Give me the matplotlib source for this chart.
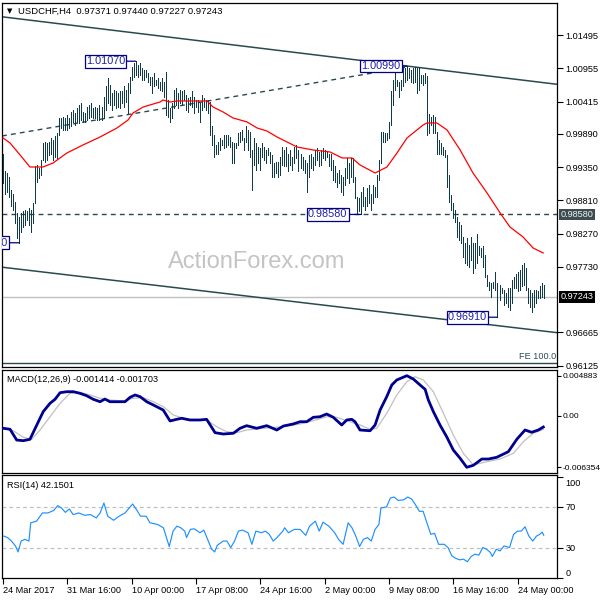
import matplotlib
matplotlib.use("Agg")
import matplotlib.pyplot as plt
from matplotlib.transforms import ScaledTranslation, blended_transform_factory

plt.rcParams['font.family'] = ['Liberation Sans', 'DejaVu Sans']

# ---------------- data ----------------
highs = [
    0.9957, 0.9928, 0.9925, 0.9919, 0.9898, 0.9892, 0.9879, 0.9860, 0.9854, 0.9860,
    0.9863, 0.9865, 0.9863, 0.9868, 0.9865, 0.9876, 0.9936, 0.9938, 0.9933, 0.9946,
    0.9974, 0.9976, 0.9974, 0.9976, 0.9982, 0.9979, 0.9985, 0.9990, 1.0014, 1.0014,
    1.0017, 1.0014, 1.0020, 1.0014, 1.0025, 1.0028, 1.0023, 1.0031, 1.0036, 1.0039,
    1.0025, 1.0023, 1.0033, 1.0036, 1.0039, 1.0031, 1.0033, 1.0031, 1.0036, 1.0033,
    1.0049, 1.0066, 1.0079, 1.0068, 1.0055, 1.0060, 1.0058, 1.0055, 1.0058, 1.0058,
    1.0066, 1.0060, 1.0071, 1.0082, 1.0098, 1.0104, 1.0107, 1.0101, 1.0104, 1.0096,
    1.0093, 1.0093, 1.0088, 1.0082, 1.0082, 1.0088, 1.0077, 1.0079, 1.0074, 1.0079,
    1.0074, 1.0090, 1.0044, 1.0031, 1.0039, 1.0060, 1.0063, 1.0055, 1.0060, 1.0058,
    1.0060, 1.0052, 1.0047, 1.0049, 1.0058, 1.0049, 1.0044, 1.0044, 1.0039, 1.0052,
    1.0047, 1.0044, 1.0044, 1.0041, 1.0001, 0.9987, 0.9971, 0.9976, 0.9982, 0.9979,
    0.9987, 0.9987, 0.9987, 0.9984, 0.9976, 0.9974, 0.9974, 0.9990, 0.9992, 0.9995,
    0.9982, 1.0001, 0.9995, 0.9992, 0.9963, 0.9982, 0.9974, 0.9968, 0.9966, 0.9974,
    0.9968, 0.9963, 0.9966, 0.9960, 0.9955, 0.9941, 0.9944, 0.9944, 0.9952, 0.9968,
    0.9963, 0.9968, 0.9957, 0.9963, 0.9952, 0.9968, 0.9971, 0.9963, 0.9957, 0.9952,
    0.9946, 0.9941, 0.9955, 0.9957, 0.9952, 0.9963, 0.9966, 0.9960, 0.9963, 0.9966,
    0.9963, 0.9960, 0.9957, 0.9957, 0.9946, 0.9936, 0.9925, 0.9930, 0.9922, 0.9919,
    0.9933, 0.9949, 0.9941, 0.9949, 0.9949, 0.9919, 0.9887, 0.9884, 0.9895, 0.9903,
    0.9887, 0.9901, 0.9906, 0.9892, 0.9906, 0.9903, 0.9922, 0.9946, 0.9992, 0.9992,
    0.9990, 0.9990, 1.0009, 1.0058, 1.0077, 1.0096, 1.0077, 1.0074, 1.0077, 1.0098,
    1.0096, 1.0099, 1.0096, 1.0093, 1.0096, 1.0098, 1.0096, 1.0098, 1.0085, 1.0085,
    1.0088, 1.0083, 1.0022, 1.0017, 1.0020, 1.0017, 0.9992, 0.9979, 0.9974, 0.9968,
    0.9963, 0.9955, 0.9922, 0.9890, 0.9876, 0.9865, 0.9854, 0.9846, 0.9841, 0.9822,
    0.9811, 0.9819, 0.9808, 0.9822, 0.9811, 0.9811, 0.9827, 0.9806, 0.9803, 0.9806,
    0.9792, 0.9760, 0.9749, 0.9746, 0.9749, 0.9765, 0.9746, 0.9743, 0.9738, 0.9735,
    0.9730, 0.9738, 0.9738, 0.9751, 0.9757, 0.9762, 0.9765, 0.9768, 0.9776, 0.9779,
    0.9771, 0.9738, 0.9735, 0.9730, 0.9735, 0.9735, 0.9733, 0.9741, 0.9746, 0.9744,
]
lows = [
    0.9909, 0.9892, 0.9895, 0.9887, 0.9871, 0.9865, 0.9844, 0.9819, 0.9812, 0.9830,
    0.9838, 0.9841, 0.9849, 0.9841, 0.9830, 0.9844, 0.9876, 0.9911, 0.9917, 0.9922,
    0.9946, 0.9944, 0.9946, 0.9955, 0.9957, 0.9946, 0.9952, 0.9949, 0.9987, 0.9998,
    0.9995, 0.9995, 0.9995, 0.9998, 1.0001, 1.0009, 1.0003, 1.0009, 1.0006, 1.0012,
    1.0009, 1.0009, 1.0012, 1.0014, 1.0017, 1.0014, 1.0014, 1.0012, 1.0012, 1.0012,
    1.0014, 1.0028, 1.0039, 1.0036, 1.0028, 1.0036, 1.0031, 1.0033, 1.0031, 1.0039,
    1.0033, 1.0041, 1.0023, 1.0055, 1.0077, 1.0082, 1.0085, 1.0082, 1.0085, 1.0077,
    1.0077, 1.0082, 1.0074, 1.0068, 1.0055, 1.0066, 1.0068, 1.0063, 1.0060, 1.0058,
    1.0049, 1.0020, 1.0017, 1.0009, 1.0014, 1.0031, 1.0036, 1.0031, 1.0039, 1.0036,
    1.0044, 1.0028, 1.0025, 1.0036, 1.0033, 1.0023, 1.0033, 1.0025, 1.0009, 1.0028,
    1.0033, 1.0028, 1.0023, 0.9987, 0.9971, 0.9952, 0.9957, 0.9957, 0.9963, 0.9971,
    0.9966, 0.9968, 0.9971, 0.9968, 0.9941, 0.9941, 0.9966, 0.9971, 0.9976, 0.9979,
    0.9963, 0.9976, 0.9963, 0.9952, 0.9898, 0.9938, 0.9930, 0.9941, 0.9930, 0.9952,
    0.9946, 0.9941, 0.9955, 0.9941, 0.9919, 0.9919, 0.9925, 0.9919, 0.9922, 0.9938,
    0.9936, 0.9936, 0.9928, 0.9938, 0.9930, 0.9941, 0.9949, 0.9928, 0.9933, 0.9930,
    0.9925, 0.9895, 0.9919, 0.9933, 0.9930, 0.9938, 0.9946, 0.9936, 0.9938, 0.9949,
    0.9946, 0.9952, 0.9936, 0.9930, 0.9914, 0.9911, 0.9903, 0.9909, 0.9895, 0.9890,
    0.9906, 0.9917, 0.9909, 0.9919, 0.9911, 0.9884, 0.9860, 0.9863, 0.9858, 0.9871,
    0.9865, 0.9871, 0.9876, 0.9865, 0.9876, 0.9887, 0.9887, 0.9914, 0.9941, 0.9976,
    0.9976, 0.9979, 0.9982, 1.0003, 1.0036, 1.0060, 1.0066, 1.0049, 1.0060, 1.0066,
    1.0074, 1.0077, 1.0079, 1.0074, 1.0071, 1.0074, 1.0055, 1.0060, 1.0071, 1.0068,
    1.0071, 0.9987, 0.9990, 1.0003, 0.9990, 0.9990, 0.9957, 0.9957, 0.9957, 0.9955,
    0.9952, 0.9903, 0.9879, 0.9865, 0.9852, 0.9846, 0.9822, 0.9817, 0.9811, 0.9789,
    0.9779, 0.9776, 0.9773, 0.9784, 0.9763, 0.9771, 0.9779, 0.9792, 0.9789, 0.9773,
    0.9757, 0.9741, 0.9735, 0.9724, 0.9738, 0.9735, 0.9691, 0.9719, 0.9730, 0.9711,
    0.9714, 0.9708, 0.9703, 0.9714, 0.9738, 0.9738, 0.9733, 0.9735, 0.9741, 0.9743,
    0.9735, 0.9714, 0.9708, 0.9700, 0.9708, 0.9714, 0.9722, 0.9722, 0.9724, 0.97227,
]
bar_idx = list(range(len(highs)))

ma_idx = [0, 3.5, 8.5, 13.4, 19.9, 24.9, 31.8, 39.8, 48.3, 56.7, 62.2, 64.7, 69.7, 73.1,
          78.1, 79.6, 83.1, 86.6, 101.5, 104.5, 109.5, 114.4, 121.4, 126.4, 131.3, 136.3,
          139.3, 146.3, 154.2, 162.7, 168.7, 173.6, 177.6, 185.1, 191.0, 196.0, 201.0,
          209.0, 210.9, 215.9, 220.9, 227.4, 233.8, 240.8, 247.3, 252.2, 258.7, 263.7, 268.7]
ma_val = [0.99823, 0.99741, 0.99546, 0.99351, 0.99351, 0.99416, 0.99579, 0.99709, 0.99839,
          0.99985, 1.00115, 1.00229, 1.00326, 1.00359, 1.00407, 1.00440, 1.00407, 1.00424,
          1.00424, 1.00326, 1.00245, 1.00148, 1.00083, 0.99985, 0.99936, 0.99839, 0.99790,
          0.99676, 0.99628, 0.99595, 0.99498, 0.99498, 0.99384, 0.99254, 0.99351, 0.99579,
          0.99823, 1.00034, 1.00066, 1.00066, 0.99953, 0.99628, 0.99254, 0.98929, 0.98604,
          0.98376, 0.98214, 0.98035, 0.97954]

chan_upper_idx = [-0.5, 275.6]
chan_upper_val = [1.01792, 1.00695]
chan_lower_idx = [-0.5, 275.6]
chan_lower_val = [0.97723, 0.96659]
trend_idx = [-0.5, 200.0]
trend_val = [0.99855, 1.00968]

support_level = 0.98580
last_price = 0.97243
fe_level = 0.96171

# price labels: (text, bar index, price, pixel gap of box to the left of bar)
price_labels = [("1.01070", 66, 1.01070, 9),
                ("1.00990", 201, 1.00990, 5),
                ("0.98580", 178, 0.98580, 12),
                ("0.96910", 246, 0.96910, 9),
                ("0.98120", 8, 0.98120, 10)]

main_ticks = [1.01495, 1.00955, 1.00415, 0.99890, 0.99350, 0.98810, 0.98270, 0.97730,
              0.96665, 0.96125]

macd_idx = [0.1, 3.5, 6.8, 10.1, 13.4, 16.8, 20.0, 23.4, 25.9, 28.4, 31.7, 35.0, 38.3, 41.6,
            44.9, 48.3, 50.7, 53.2, 56.6, 60.7, 63.2, 65.7, 68.2, 71.5, 74.8, 79.7, 83.1,
            86.4, 88.9, 93.0, 98.0, 101.3, 105.5, 109.6, 114.6, 117.9, 121.2, 126.2, 131.2,
            136.2, 139.5, 144.4, 147.8, 151.1, 154.4, 157.7, 161.0, 164.3, 168.5, 171.0,
            173.5, 175.1, 177.6, 182.6, 185.1, 187.6, 190.9, 193.4, 195.9, 200.9, 204.1,
            207.5, 210.0, 211.6, 214.1, 217.4, 220.7, 224.0, 227.4, 230.7, 234.0, 238.2,
            241.5, 245.6, 251.4, 255.6, 259.7, 263.0, 266.3, 268.8]
macd_val = [-0.00157, -0.00169, -0.00301, -0.00309, -0.00292, -0.00117, 0.00047, 0.00150,
            0.00199, 0.00280, 0.00292, 0.00292, 0.00272, 0.00243, 0.00199, 0.00169, 0.00202,
            0.00169, 0.00169, 0.00169, 0.00223, 0.00252, 0.00231, 0.00169, 0.00129, 0.00067,
            -0.00067, -0.00047, -0.00034, -0.00055, -0.00055, -0.00047, -0.00211, -0.00227,
            -0.00218, -0.00157, -0.00125, -0.00157, -0.00125, -0.00178, -0.00129, -0.00104,
            -0.00076, -0.00076, -0.00022, -0.00015, 0.00018, -0.00022, -0.00117, -0.00055,
            -0.00047, -0.00076, -0.00178, -0.00187, -0.00117, 0.00067, 0.00231, 0.00374,
            0.00436, 0.004883, 0.00448, 0.00374, 0.00321, 0.00190, 0.00047, -0.00117,
            -0.00260, -0.00423, -0.00525, -0.006354, -0.00611, -0.00534, -0.00534, -0.00513,
            -0.00444, -0.00292, -0.00178, -0.00206, -0.00178, -0.001414]
sig_idx = [0.1, 5.1, 10.1, 14.3, 18.4, 23.4, 28.4, 33.3, 38.3, 43.3, 48.3, 53.2, 59.9, 64.8,
           69.8, 74.8, 79.8, 84.7, 91.4, 101.3, 106.3, 111.3, 116.3, 121.2, 129.5, 139.5,
           147.8, 154.4, 161.0, 166.0, 171.0, 177.6, 182.6, 185.9, 190.9, 195.9, 200.9,
           205.0, 209.1, 214.1, 219.1, 224.0, 229.0, 234.0, 240.6, 247.3, 253.9, 258.9,
           263.8, 268.8]
sig_val = [-0.00157, -0.00187, -0.00267, -0.00292, -0.00178, -0.00015, 0.00150, 0.00272,
           0.00285, 0.00252, 0.00211, 0.00190, 0.00178, 0.00211, 0.00218, 0.00169, 0.00108,
           0.00006, -0.00047, -0.00055, -0.00137, -0.00199, -0.00211, -0.00178, -0.00157,
           -0.00137, -0.00104, -0.00064, -0.00015, -0.00022, -0.00064, -0.00117, -0.00169,
           -0.00157, 0.00027, 0.00252, 0.00415, 0.00476, 0.00436, 0.00292, 0.00027, -0.00239,
           -0.00464, -0.00607, -0.00567, -0.00534, -0.00464, -0.00321, -0.00218, -0.001703]
macd_ticks = [0.004883, 0.0, -0.006354]
macd_tick_labels = ['0.004883', '0.00', '-0.006354']

rsi_idx = [0.4, 2.3, 4.2, 6.2, 7.5, 9.0, 10.9, 12.9, 13.8, 16.7, 19.6, 22.4, 25.3, 27.2, 29.1,
           31.0, 33.0, 34.9, 37.7, 40.6, 43.5, 46.4, 48.3, 50.2, 52.1, 55.0, 57.8, 60.7,
           64.5, 66.4, 68.4, 71.2, 73.1, 77.0, 79.8, 80.8, 82.7, 84.6, 86.5, 88.4, 90.4,
           91.3, 93.2, 95.1, 98.0, 99.9, 101.8, 103.8, 105.3, 106.6, 109.5, 111.4, 113.3,
           115.2, 117.1, 119.1, 121.9, 123.8, 125.8, 128.6, 130.5, 132.5, 134.4, 136.3,
           139.2, 140.1, 142.0, 144.9, 147.8, 150.6, 152.5, 155.4, 157.3, 159.2, 162.1,
           165.0, 166.9, 169.2, 171.7, 173.6, 175.5, 177.4, 179.3, 181.3, 183.2, 185.1,
           187.0, 188.0, 190.8, 192.7, 194.6, 196.6, 199.4, 201.3, 203.3, 205.2, 207.1,
           209.0, 210.9, 212.8, 214.7, 216.7, 219.5, 221.4, 223.3, 225.3, 227.2, 229.1,
           231.0, 232.9, 234.8, 236.7, 238.7, 240.6, 242.5, 243.4, 245.4, 247.3, 249.2,
           252.0, 254.0, 255.9, 257.8, 259.7, 261.6, 263.5, 265.4, 267.0, 268.2, 269.0]
rsi_val = [41.3, 39.8, 36.4, 31.6, 25.7, 36.4, 38.1, 36.4, 54.4, 56.0, 64.1, 64.1, 66.7, 71.3,
           69.0, 64.7, 68.0, 62.5, 64.1, 61.8, 62.5, 59.2, 64.1, 73.9, 60.9, 56.9, 60.9, 64.1,
           72.9, 67.4, 60.9, 60.9, 54.4, 52.7, 49.5, 43.0, 31.0, 46.2, 51.1, 49.5, 46.2, 39.8,
           47.9, 48.5, 44.6, 47.2, 38.1, 28.3, 25.7, 32.2, 36.4, 36.4, 30.0, 36.4, 46.2, 47.2,
           44.6, 33.2, 46.2, 44.6, 46.2, 43.0, 36.4, 39.8, 46.2, 49.5, 44.6, 47.9, 47.9, 42.0,
           51.1, 56.0, 46.2, 55.0, 51.1, 44.6, 38.1, 33.2, 54.4, 49.5, 41.3, 31.0, 38.1, 39.8,
           36.4, 47.9, 52.7, 69.0, 70.0, 78.8, 79.8, 76.4, 77.1, 79.8, 77.8, 72.2, 65.7, 65.7,
           54.4, 43.0, 44.0, 33.2, 33.2, 30.0, 21.8, 19.3, 17.9, 18.6, 16.0, 21.2, 23.5, 22.5,
           30.0, 28.3, 25.1, 21.2, 28.3, 26.7, 31.6, 30.0, 43.0, 46.2, 46.2, 50.5, 41.3, 36.4,
           41.3, 43.0, 45.2, 42.15]
rsi_ticks = [100, 70, 30, 0]

xtick_idx = [0, 32, 64, 96, 128, 160, 192, 224, 256]
xtick_labels = ['24 Mar 2017', '31 Mar 16:00', '10 Apr 00:00', '17 Apr 08:00', '24 Apr 16:00',
                '2 May 00:00', '9 May 08:00', '16 May 16:00', '24 May 00:00']

title_text = 'USDCHF,H4  0.97371 0.97440 0.97227 0.97243'
macd_text = 'MACD(12,26,9) -0.001414 -0.001703'
rsi_text = 'RSI(14) 42.1501'

# ---------------- styling ----------------
BAR = '#0f3a48'
LINE = '#2a4a50'
NAVY = '#000080'
LBL_TXT = '#2020a8'
FS = 6.6

fig = plt.figure(figsize=(6, 6), dpi=100)
fig.patch.set_facecolor('white')

P_MAIN = (2, 3, 557, 367)
P_MACD = (2, 370, 557, 473)
P_RSI = (2, 475, 557, 578)


def rect(p):
    l, t, r, b = p
    return [l / 600, 1 - b / 600, (r - l) / 600, (b - t) / 600]


def axpos(p, x, y):
    l, t, r, b = p
    return ((x - l) / (r - l), (b - y) / (b - t))


ax1 = fig.add_axes(rect(P_MAIN))
ax2 = fig.add_axes(rect(P_MACD))
ax3 = fig.add_axes(rect(P_RSI))

for ax in (ax1, ax2, ax3):
    ax.set_xlim(-0.5, 275.6)
    for s in ax.spines.values():
        s.set_linewidth(0.9)
        s.set_color('black')
    ax.yaxis.tick_right()
    ax.tick_params(axis='y', direction='out', length=4, width=0.8, labelsize=FS,
                   pad=2, colors='black')
    ax.tick_params(axis='x', bottom=False, labelbottom=False)

# ---- main panel ----
ax1.set_ylim(0.96101, 1.02016)
ax1.set_yticks(main_ticks)
ax1.set_yticklabels([f'{v:.5f}' for v in main_ticks])

ax1.text(*axpos(P_MAIN, 168, 262), 'ActionForex.com', transform=ax1.transAxes,
         fontsize=17, color='#c4c4c4', va='center', ha='left', zorder=0.5)

ax1.plot(chan_upper_idx, chan_upper_val, color=LINE, lw=1.1, zorder=2)
ax1.plot(chan_lower_idx, chan_lower_val, color=LINE, lw=1.1, zorder=2)
ax1.plot(trend_idx, trend_val, color=LINE, lw=1.0, ls=(0, (3.5, 3)), zorder=2)
ax1.axhline(support_level, color=LINE, lw=1.0, ls=(0, (3.5, 3)), zorder=2)
ax1.axhline(last_price, color='#c0c0c0', lw=1.0, zorder=1.5)
ax1.axhline(fe_level, color=LINE, lw=1.0, zorder=2)
ax1.annotate('FE 100.0', xy=(1, fe_level),
             xycoords=blended_transform_factory(ax1.transAxes, ax1.transData),
             xytext=(-1, 1.5), textcoords='offset pixels', ha='right', va='bottom',
             fontsize=FS, color=LINE)

ax1.vlines(bar_idx, lows, highs, color=BAR, lw=0.72, zorder=3, antialiased=False)
ax1.plot(ma_idx, ma_val, color='#ff0000', lw=0.9, zorder=4)

for txt, bi, pr, off in price_labels:
    ax1.annotate(txt, xy=(bi, pr), xytext=(-off - 1.5, 0), textcoords='offset pixels',
                 ha='right', va='center', fontsize=7.8, color=LBL_TXT,
                 bbox=dict(boxstyle='square,pad=0.12', fc='white', ec=NAVY, lw=0.9),
                 arrowprops=dict(arrowstyle='-', color=NAVY, lw=0.9, shrinkA=0, shrinkB=0),
                 zorder=6, clip_on=True, annotation_clip=False)

btr = blended_transform_factory(ax1.transAxes, ax1.transData)
ax1.text(1.006, support_level, f'{support_level:.5f}', transform=btr, ha='left', va='center',
         fontsize=FS, color='#f0f0f0', clip_on=False, zorder=7,
         bbox=dict(boxstyle='square,pad=0.15', fc='#3c4c52', ec='none'))
ax1.text(1.006, last_price, f'{last_price:.5f}', transform=btr, ha='left', va='center',
         fontsize=FS, color='white', clip_on=False, zorder=7,
         bbox=dict(boxstyle='square,pad=0.15', fc='black', ec='none'))

ax1.text(*axpos(P_MAIN, 9.7, 11), '\u25bc', transform=ax1.transAxes, fontsize=5,
         family=['DejaVu Sans'], va='center', ha='center', color='black')
ax1.text(*axpos(P_MAIN, 18.3, 11), title_text, transform=ax1.transAxes, fontsize=6.8,
         va='center', ha='left', color='black')

# ---- MACD panel ----
ax2.set_ylim(-0.007055, 0.005583)
ax2.set_yticks(macd_ticks)
ax2.set_yticklabels(macd_tick_labels)
ax2.tick_params(axis='y', labelsize=6.0, pad=0.8, length=3)
ax2.plot(sig_idx, sig_val, color='#c0c0c0', lw=0.9, zorder=2)
ax2.plot(macd_idx, macd_val, color='#000090', lw=2.0, zorder=3, solid_joinstyle='round')
ax2.text(*axpos(P_MACD, 6.7, 380), macd_text, transform=ax2.transAxes, fontsize=FS,
         va='center', ha='left', color='black')

# ---- RSI panel ----
ax3.set_ylim(0.05, 101.5)
ax3.axhline(70, color='#c0c0c0', lw=0.9, ls=(0, (3, 2.5)))
ax3.axhline(30, color='#c0c0c0', lw=0.9, ls=(0, (3, 2.5)))
ax3.plot(rsi_idx, rsi_val, color='#1e90ff', lw=0.85)
ax3.set_yticks(rsi_ticks)
ax3.set_yticklabels([str(v) for v in rsi_ticks])
labs = ax3.get_yticklabels()
labs[0].set_transform(labs[0].get_transform() + ScaledTranslation(0, -6 / 100, fig.dpi_scale_trans))
labs[-1].set_transform(labs[-1].get_transform() + ScaledTranslation(0, 5.5 / 100, fig.dpi_scale_trans))
ax3.text(*axpos(P_RSI, 7, 485), rsi_text, transform=ax3.transAxes, fontsize=FS,
         va='center', ha='left', color='black')

ax3.set_xticks(xtick_idx)
ax3.set_xticklabels(xtick_labels, ha='left')
ax3.tick_params(axis='x', bottom=True, labelbottom=True, direction='out', length=4,
                width=0.8, labelsize=FS, pad=2, colors='black')

fig.savefig('out.png', dpi=100, facecolor='white')
